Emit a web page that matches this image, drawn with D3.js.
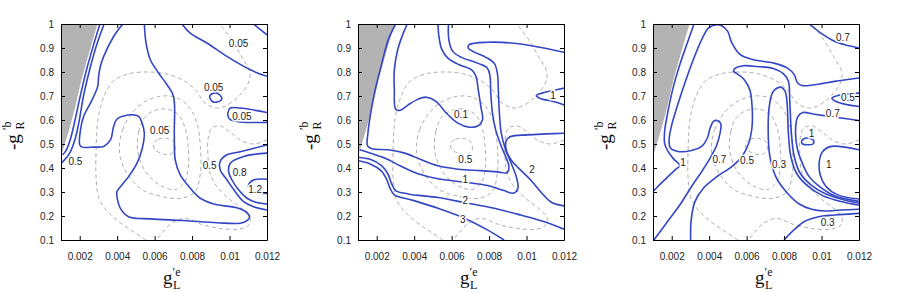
<!DOCTYPE html>
<html>
<head>
<meta charset="utf-8">
<script src="https://cdn.jsdelivr.net/npm/d3@7"></script>
<style>
body { margin: 0; background: #fff; }
svg { display: block; }
.clabel { font-family: "Liberation Sans", Arial, sans-serif; font-size: 10px; fill: #222; }
.title { font-family: "Liberation Serif", "DejaVu Serif", serif; fill: #111; }
</style>
</head>
<body>
<svg id="chart" width="900" height="293"></svg>
<script>
// x values are g'_L^e in units of 1e-3, y values are -g'_R^b
const xTicks = [2, 4, 6, 8, 10, 12]
const yTicks = [0.1, 0.2, 0.3, 0.4, 0.5, 0.6, 0.7, 0.8, 0.9, 1]

// excluded (grey) corner, same in every panel
const excluded = [[1, 0.45], [1.4, 0.55], [1.75, 0.65], [2.1, 0.77], [2.5, 0.88], [2.95, 1.0]]

// dashed reference contours, same in every panel
const dashInner = [[5.95, 0.503], [6.2, 0.52], [6.7, 0.522], [7.05, 0.507], [7.08, 0.472], [6.8, 0.456], [6.4, 0.46], [6.0, 0.478]]
const dashMid = [[5.1, 0.47], [5.15, 0.55], [5.45, 0.61], [6.0, 0.64], [6.7, 0.645], [7.3, 0.62], [7.65, 0.56], [7.8, 0.48], [7.8, 0.4], [7.6, 0.34], [7.1, 0.31], [6.5, 0.32], [5.9, 0.35], [5.4, 0.4]]
const dashWide = [[4.12, 0.49], [4.29, 0.559], [4.73, 0.622], [5.35, 0.67], [6.23, 0.698], [7.11, 0.695], [7.82, 0.656], [8.26, 0.587], [8.44, 0.49], [8.44, 0.378], [8.17, 0.302], [7.47, 0.274], [6.41, 0.281], [5.35, 0.309], [4.64, 0.364], [4.2, 0.434]]
const dashOuter = [[5.53, 0.1], [4.99, 0.128], [3.77, 0.197], [3.06, 0.267], [2.88, 0.35], [2.88, 0.49], [2.97, 0.6], [3.23, 0.684], [3.76, 0.76], [4.65, 0.793], [5.7, 0.8], [6.58, 0.793], [7.47, 0.768], [8.17, 0.726], [8.7, 0.67], [9.41, 0.65], [10.29, 0.684], [11.0, 0.754], [11.08, 0.8], [10.64, 0.865], [10.11, 0.935], [9.58, 0.99], [9.5, 1.0]]
const dashRight = [[12, 0.517], [11.3, 0.5], [10.6, 0.515], [10.0, 0.552], [9.5, 0.575], [9.05, 0.566], [8.85, 0.52], [8.85, 0.45], [8.95, 0.38], [9.35, 0.32], [10.0, 0.27], [10.75, 0.225], [11.1, 0.19], [11.0, 0.16], [10.5, 0.145], [9.5, 0.148], [8.5, 0.165], [7.6, 0.19], [6.9, 0.17], [6.4, 0.13], [6.1, 0.1]]

// panel 1
const p1HugIn = [[3.08, 1.0], [2.65, 0.89], [2.3, 0.79], [2.0, 0.69], [1.75, 0.6], [1.5, 0.52], [1.25, 0.47], [1.08, 0.455]]
const p1Hug05 = [[3.3, 1.0], [2.85, 0.9], [2.5, 0.8], [2.2, 0.7], [1.98, 0.6], [1.75, 0.52], [1.45, 0.46], [1.2, 0.435], [1.0, 0.42]]
const p1Big = [[4.3, 1.0], [3.81, 0.948], [3.28, 0.865], [3.10, 0.823], [3.01, 0.782], [2.96, 0.74], [2.66, 0.684], [2.21, 0.615], [2.04, 0.559], [2.0, 0.497], [2.13, 0.487], [2.75, 0.487], [3.28, 0.49], [3.64, 0.517], [3.81, 0.573], [3.99, 0.604], [4.35, 0.617], [4.79, 0.622], [5.15, 0.615], [5.33, 0.587], [5.45, 0.545], [5.32, 0.476], [5.06, 0.42], [4.61, 0.364], [4.26, 0.33], [3.99, 0.302], [4.02, 0.267], [4.17, 0.232], [4.61, 0.197], [5.77, 0.188], [7.55, 0.181], [9.33, 0.172], [10.57, 0.17], [10.93, 0.181], [11.07, 0.195], [10.93, 0.214], [10.48, 0.232], [9.15, 0.25], [8.44, 0.274], [7.9, 0.316], [7.37, 0.371], [7.1, 0.434], [7.05, 0.545], [7.01, 0.698], [6.66, 0.747], [6.21, 0.796], [5.77, 0.851], [5.54, 0.921], [5.45, 1.0]]
const p1Upper = [[7.46, 1.0], [7.9, 0.962], [8.79, 0.921], [9.86, 0.865], [11.11, 0.809], [12, 0.782]]
const p1Corner = [[11.28, 1.0], [11.55, 0.983], [12, 0.955]]
const p1Small = [[8.94, 0.698], [9.15, 0.712], [9.42, 0.708], [9.59, 0.688], [9.33, 0.675], [9.08, 0.677]]
const p1Tongue = [[12, 0.631], [10.57, 0.65], [10.04, 0.65], [9.91, 0.629], [10.0, 0.604], [10.57, 0.592], [12, 0.59]]
const p1Right05 = [[12, 0.496], [10.57, 0.468], [9.86, 0.455], [9.5, 0.427], [9.5, 0.393], [9.86, 0.351], [10.22, 0.31], [10.75, 0.26], [11.28, 0.239], [12, 0.225]]
const p1Right08 = [[12, 0.462], [10.75, 0.448], [10.04, 0.42], [9.95, 0.385], [10.13, 0.35], [10.48, 0.309], [10.93, 0.274], [11.46, 0.256], [12, 0.25]]
const p1Right12 = [[12, 0.353], [11.28, 0.35], [11.02, 0.33], [11.11, 0.305], [11.46, 0.295], [12, 0.295]]
const p1Labels = [[10.48, 0.92, "0.05"], [9.15, 0.737, "0.05"], [10.66, 0.615, "0.05"], [6.27, 0.555, "0.05"], [1.77, 0.427, "0.5"], [8.94, 0.41, "0.5"], [10.54, 0.383, "0.8"], [11.37, 0.312, "1.2"]]

// panel 2
const p2Line01 = [[3.63, 1.0], [3.42, 0.962], [3.12, 0.893], [2.94, 0.809], [2.94, 0.726], [3.01, 0.645], [3.24, 0.64], [3.68, 0.663], [4.21, 0.687], [4.65, 0.695], [5.18, 0.677], [5.71, 0.629], [6.33, 0.587], [6.94, 0.570], [7.42, 0.576], [7.65, 0.601], [7.56, 0.656], [7.42, 0.726], [7.30, 0.782], [7.07, 0.809], [6.41, 0.83], [5.80, 0.858], [5.48, 0.893], [5.32, 0.949], [5.27, 1.0]]
const p2Line05 = [[3.01, 1.0], [2.62, 0.935], [2.23, 0.823], [1.88, 0.712], [1.65, 0.615], [1.53, 0.545], [1.51, 0.492], [1.74, 0.48], [2.62, 0.476], [3.50, 0.462], [4.39, 0.434], [5.27, 0.409], [6.33, 0.395], [7.56, 0.389], [8.44, 0.384], [8.97, 0.381], [9.06, 0.406], [8.88, 0.448], [8.62, 0.497], [8.35, 0.559], [8.18, 0.629], [8.09, 0.712], [8.05, 0.782], [7.91, 0.816], [7.38, 0.837], [6.50, 0.862], [6.06, 0.886], [5.85, 0.935], [5.83, 1.0]]
const p2Line1 = [[1.1, 0.476], [1.56, 0.465], [2.45, 0.441], [3.33, 0.406], [4.21, 0.376], [5.27, 0.355], [6.68, 0.341], [7.91, 0.327], [8.80, 0.306], [9.29, 0.295], [9.54, 0.316], [9.45, 0.364], [9.18, 0.42], [8.88, 0.476], [8.65, 0.545], [8.55, 0.629], [8.50, 0.712], [8.44, 0.796], [8.27, 0.837], [7.83, 0.861], [7.21, 0.883], [6.89, 0.9], [6.94, 0.914], [7.91, 0.924], [9.68, 0.917], [12, 0.882]]
const p2Right2 = [[12, 0.545], [11.09, 0.542], [10.03, 0.538], [9.15, 0.531], [8.92, 0.515], [8.94, 0.469], [9.24, 0.427], [9.77, 0.385], [10.29, 0.344], [10.82, 0.295], [11.35, 0.256], [12, 0.242]]
const p2Low2 = [[1.0, 0.445], [1.65, 0.436], [2.27, 0.409], [2.59, 0.376], [2.80, 0.334], [3.01, 0.306], [3.68, 0.292], [5.27, 0.277], [6.68, 0.256], [8.27, 0.232], [9.68, 0.204], [10.91, 0.177], [12, 0.145]]
const p2Low3 = [[1.0, 0.43], [1.65, 0.417], [2.23, 0.389], [2.53, 0.353], [2.71, 0.316], [2.94, 0.288], [3.86, 0.267], [5.27, 0.232], [6.68, 0.191], [7.91, 0.142], [8.80, 0.1]]
const p2Wedge1 = [[12, 0.733], [11.44, 0.723], [10.82, 0.712], [10.52, 0.701], [10.74, 0.69], [11.44, 0.677], [12, 0.663]]
const p2Labels = [[6.50, 0.622, "0.1"], [6.73, 0.437, "0.5"], [6.73, 0.353, "1"], [6.73, 0.264, "2"], [6.59, 0.186, "3"], [10.29, 0.392, "2"], [11.41, 0.701, "1"]]

// panel 3
const p3Hug1 = [[3.19, 1.0], [2.83, 0.921], [2.43, 0.83], [2.07, 0.733], [1.80, 0.636], [1.62, 0.552], [1.62, 0.503], [1.80, 0.469], [2.11, 0.437], [2.43, 0.41], [2.22, 0.395], [1.71, 0.357], [1.26, 0.323], [1.0, 0.302]]
const p3Line07 = [[1.05, 0.1], [1.71, 0.17], [2.43, 0.246], [3.06, 0.323], [3.60, 0.385], [4.05, 0.441], [4.41, 0.497], [4.58, 0.545], [4.62, 0.584], [4.44, 0.598], [4.23, 0.594], [4.05, 0.566], [3.90, 0.524], [3.60, 0.49], [3.06, 0.473], [2.34, 0.469], [1.93, 0.483], [1.86, 0.517], [1.98, 0.573], [2.29, 0.656], [2.70, 0.754], [3.15, 0.851], [3.60, 0.935], [3.96, 0.983], [4.32, 0.996], [4.67, 0.993], [4.99, 0.969], [5.21, 0.921], [5.66, 0.872], [6.38, 0.851], [7.46, 0.837], [8.18, 0.816], [8.54, 0.789], [8.72, 0.754], [8.99, 0.743], [9.61, 0.747], [10.69, 0.761], [12, 0.775]]
const p3Line05 = [[3.01, 0.1], [3.04, 0.184], [3.24, 0.26], [3.69, 0.316], [4.41, 0.364], [5.21, 0.406], [5.75, 0.448], [6.11, 0.503], [6.29, 0.573], [6.29, 0.656], [6.17, 0.726], [5.84, 0.771], [5.48, 0.793], [5.30, 0.803], [5.40, 0.816], [5.84, 0.826], [6.56, 0.823], [7.46, 0.814], [7.96, 0.793], [8.23, 0.761], [8.30, 0.684], [8.39, 0.545], [8.54, 0.448], [8.86, 0.378], [9.43, 0.33], [10.15, 0.295], [11.04, 0.271], [12, 0.253]]
const p3Finger03 = [[12, 0.228], [11.04, 0.225], [10.15, 0.221], [9.47, 0.228], [8.81, 0.25], [8.18, 0.295], [7.58, 0.36], [7.24, 0.448], [7.15, 0.559], [7.22, 0.663], [7.42, 0.719], [7.82, 0.737], [8.05, 0.720], [8.16, 0.67], [8.23, 0.545], [8.36, 0.448], [8.68, 0.376], [9.29, 0.323], [10.06, 0.285], [11.04, 0.26], [12, 0.245]]
const p3Low03 = [[8.0, 0.1], [8.57, 0.145], [9.11, 0.178], [9.79, 0.196], [10.69, 0.204], [12, 0.211]]
const p3Right1 = [[12, 0.476], [10.51, 0.49], [10.06, 0.469], [9.88, 0.427], [9.93, 0.371], [10.24, 0.323], [10.87, 0.288], [12, 0.271]]
const p3Right07 = [[12, 0.598], [10.69, 0.612], [9.61, 0.624], [8.99, 0.631], [8.72, 0.612], [8.61, 0.545], [8.72, 0.476], [8.99, 0.417], [9.34, 0.364], [9.88, 0.323], [10.69, 0.284], [12, 0.261]]
const p3Wedge05 = [[12, 0.712], [11.41, 0.708], [10.87, 0.702], [10.55, 0.691], [10.78, 0.677], [11.41, 0.663], [12, 0.656]]
const p3Top07 = [[9.34, 1.0], [9.97, 0.962], [10.69, 0.928], [11.41, 0.91], [12, 0.9]]
const p3Small1 = [[8.93, 0.51], [9.08, 0.523], [9.34, 0.524], [9.58, 0.514], [9.54, 0.5], [9.26, 0.497], [8.99, 0.5]]
const p3Labels = [[11.14, 0.944, "0.7"], [11.41, 0.694, "0.5"], [10.6, 0.629, "0.7"], [9.47, 0.545, "1"], [10.38, 0.413, "1"], [7.73, 0.416, "0.3"], [6.02, 0.431, "0.5"], [4.55, 0.434, "0.7"], [2.61, 0.424, "1"], [10.33, 0.172, "0.3"]]

const panels = [
    { left: 61, open: [p1HugIn, p1Hug05, p1Big, p1Upper, p1Corner, p1Tongue, p1Right05, p1Right08, p1Right12], closed: [p1Small], labels: p1Labels },
    { left: 358, open: [p2Line01, p2Line05, p2Line1, p2Right2, p2Low2, p2Low3, p2Wedge1], closed: [], labels: p2Labels },
    { left: 653, open: [p3Hug1, p3Line07, p3Line05, p3Finger03, p3Low03, p3Right1, p3Right07, p3Wedge05, p3Top07], closed: [p3Small1], labels: p3Labels }
]

const W = 206, H = 216, TOP = 24
const svg = d3.select("#chart")

const x = d3.scaleLinear().domain([1, 12]).range([0, W])
const y = d3.scaleLinear().domain([0.1, 1]).range([H, 0])

const openLine = d3.line().x(d => x(d[0])).y(d => y(d[1])).curve(d3.curveCatmullRom.alpha(0.5))
const closedLine = d3.line().x(d => x(d[0])).y(d => y(d[1])).curve(d3.curveCatmullRomClosed.alpha(0.5))

panels.forEach((p, k) => {
    const g = svg.append("g").attr("transform", `translate(${p.left},${TOP})`)

    g.append("clipPath").attr("id", "clip" + k)
        .append("rect").attr("width", W).attr("height", H)
    const plot = g.append("g").attr("clip-path", `url(#clip${k})`)

    // grey excluded region
    plot.append("path")
        .attr("d", d3.line().x(d => x(d[0])).y(d => y(d[1]))(excluded.concat([[1, 1]])) + "Z")
        .attr("fill", "#b3b3b3")

    // dashed reference lines
    plot.selectAll(".dash-open").data([dashOuter, dashRight]).enter().append("path")
        .attr("d", openLine)
        .attr("fill", "none").attr("stroke", "#a6a6a6").attr("stroke-width", 0.9).attr("stroke-dasharray", "4,3")
    plot.selectAll(".dash-closed").data([dashInner, dashMid, dashWide]).enter().append("path")
        .attr("d", closedLine)
        .attr("fill", "none").attr("stroke", "#a6a6a6").attr("stroke-width", 0.9).attr("stroke-dasharray", "4,3")

    // solid contours
    plot.selectAll(".solid-open").data(p.open).enter().append("path")
        .attr("d", openLine)
        .attr("fill", "none").attr("stroke", "#3446c4").attr("stroke-width", 1.6)
    plot.selectAll(".solid-closed").data(p.closed).enter().append("path")
        .attr("d", closedLine)
        .attr("fill", "none").attr("stroke", "#3446c4").attr("stroke-width", 1.6)

    // contour labels
    plot.selectAll(".clabel").data(p.labels).enter().append("text")
        .attr("class", "clabel")
        .attr("x", d => x(d[0])).attr("y", d => y(d[1]))
        .attr("dy", "0.35em").attr("text-anchor", "middle")
        .attr("stroke", "#fff").attr("stroke-width", 3).attr("paint-order", "stroke")
        .text(d => d[2])

    // axes on all four sides, ticks inward
    const styleAxis = sel => {
        sel.selectAll(".domain").attr("stroke", "#000").attr("stroke-width", 1)
        sel.selectAll(".tick line").attr("stroke", "#000")
        sel.selectAll("text").attr("font-family", "Liberation Sans, Arial, sans-serif").attr("font-size", 10).attr("fill", "#222")
    }
    g.append("g").attr("transform", `translate(0,${H})`)
        .call(d3.axisBottom(x).tickValues(xTicks).tickSize(-4).tickSizeOuter(0).tickPadding(13).tickFormat(d => d / 1000))
        .call(styleAxis)
    g.append("g")
        .call(d3.axisTop(x).tickValues(xTicks).tickSize(-4).tickSizeOuter(0).tickFormat(""))
        .call(styleAxis)
    g.append("g")
        .call(d3.axisLeft(y).tickValues(yTicks).tickSize(-4).tickSizeOuter(0).tickPadding(7).tickFormat(d => String(d)))
        .call(styleAxis)
    g.append("g").attr("transform", `translate(${W},0)`)
        .call(d3.axisRight(y).tickValues(yTicks).tickSize(-4).tickSizeOuter(0).tickFormat(""))
        .call(styleAxis)

    // x title  g'^e_L
    const xt = svg.append("g").attr("class", "title").attr("transform", `translate(${p.left + 102},284)`)
    xt.append("text").attr("font-size", 19).text("g")
    xt.append("text").attr("x", 9.5).attr("y", -8).attr("font-size", 12).text("′e")
    xt.append("text").attr("x", 10).attr("y", 5).attr("font-size", 12).text("L")

    // y title  -g'^b_R
    const yt = svg.append("g").attr("class", "title").attr("transform", `translate(${p.left - 42},131) rotate(-90)`)
    yt.append("text").attr("x", -19).attr("font-size", 19).text("-g")
    yt.append("text").attr("x", 1).attr("y", -8).attr("font-size", 12).text("′b")
    yt.append("text").attr("x", 1.5).attr("y", 5).attr("font-size", 12).text("R")
})
</script>
</body>
</html>
